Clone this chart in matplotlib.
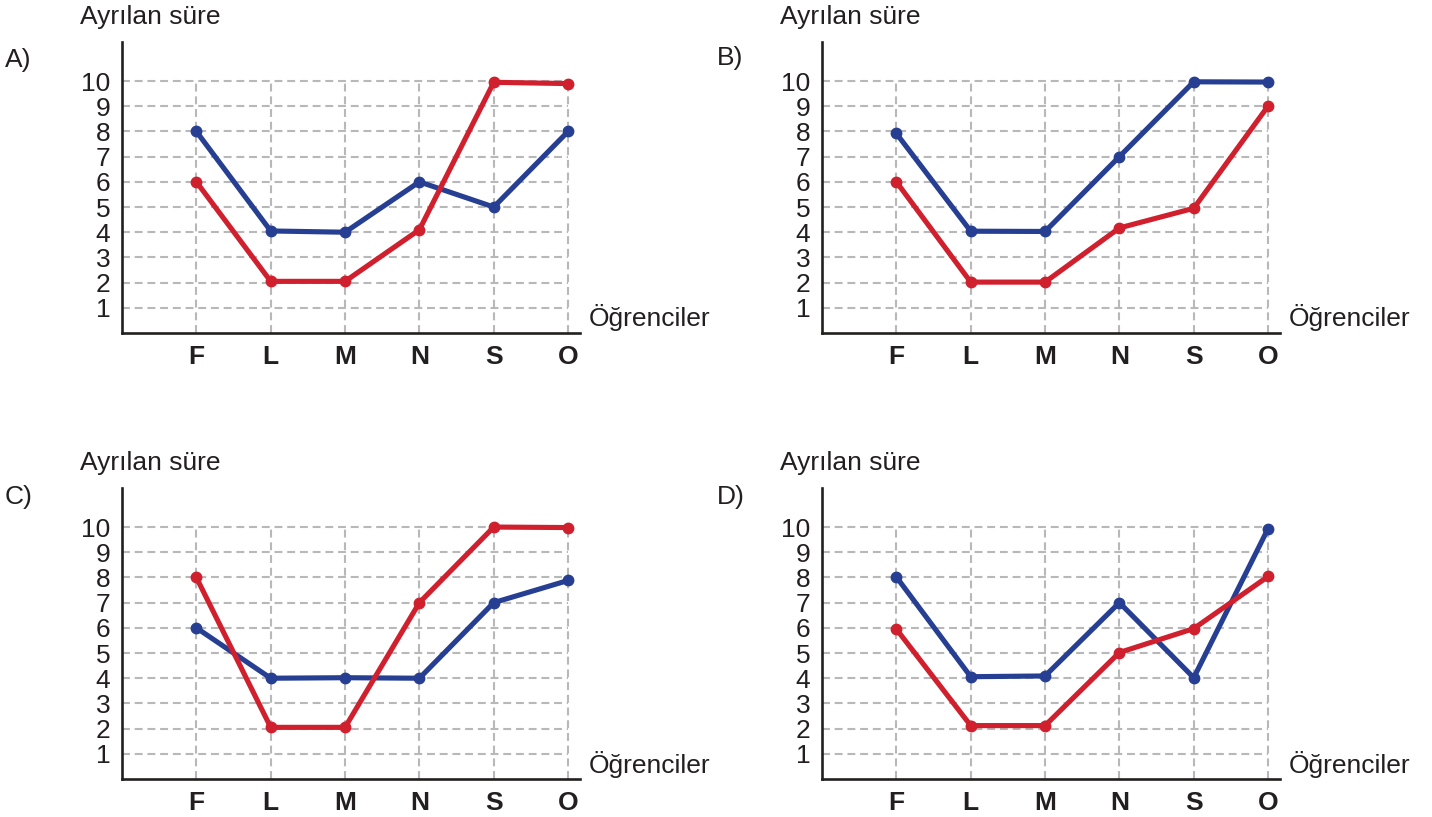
import matplotlib
matplotlib.use('Agg')
from matplotlib import pyplot as plt

plt.rcParams['font.family'] = ['Liberation Sans', 'DejaVu Sans']

students = ['F', 'L', 'M', 'N', 'S', 'O']
yticks = [1, 2, 3, 4, 5, 6, 7, 8, 9, 10]
panels = ['A)', 'B)', 'C)', 'D)']

blue_a = [8, 4.05, 4.0, 6, 5, 8]
red_a = [6, 2.05, 2.05, 4.1, 9.95, 9.9]
blue_b = [7.92, 4.04, 4.03, 7, 9.97, 9.96]
red_b = [6, 2.02, 2.02, 4.17, 4.95, 9.01]
blue_c = [6, 4.0, 4.02, 4.0, 7, 7.88]
red_c = [8, 2.05, 2.05, 7, 10, 9.98]
blue_d = [8.02, 4.06, 4.09, 7, 4.02, 9.94]
red_d = [5.95, 2.12, 2.12, 5.02, 5.97, 8.04]

blues = [blue_a, blue_b, blue_c, blue_d]
reds = [red_a, red_b, red_c, red_d]

W, H = 1432, 817
BLUE = '#263f93'
RED = '#d0202e'
GRID = '#b8b8b8'
INK = '#231f20'
FS = 19

fig = plt.figure(figsize=(W / 100, H / 100), dpi=100)

def fx(px):
    return px / W

def fy(py):
    return 1 - py / H

offsets = [(0, 0), (700, 0), (0, 446), (700, 446)]
label_pos = [(5, 60), (717, 58), (5, 497), (717, 497)]

for i, (dx, dy) in enumerate(offsets):
    left, right = 122 + dx, 580 + dx
    top, bottom = 42 + dy, 333 + dy
    ax = fig.add_axes([fx(left), fy(bottom), (right - left) / W, (bottom - top) / H])
    ax.set_xlim(0, 6.16)
    ax.set_ylim(0, 11.55)
    x = list(range(1, len(students) + 1))

    ax.hlines(yticks, 0, 6, colors=GRID, linewidth=1.5, linestyles=(0, (3.8, 2.3)), zorder=1)
    ax.vlines(x, 0, 10.1, colors=GRID, linewidth=1.5, linestyles=(0, (3.8, 2.3)), zorder=1)

    ax.plot(x, blues[i], color=BLUE, lw=3.7, marker='o', ms=7.5, zorder=3, solid_capstyle='round')
    ax.plot(x, reds[i], color=RED, lw=3.7, marker='o', ms=7.5, zorder=3, solid_capstyle='round')

    for s in ['top', 'right']:
        ax.spines[s].set_visible(False)
    for s in ['left', 'bottom']:
        ax.spines[s].set_linewidth(1.9)
        ax.spines[s].set_color(INK)

    ax.set_yticks(yticks)
    ax.set_yticklabels([str(v) for v in yticks], fontsize=FS, color=INK)
    ax.set_xticks(x)
    ax.set_xticklabels(students, fontsize=FS, fontweight='bold', color=INK)
    ax.tick_params(axis='y', length=0, pad=8.5)
    ax.tick_params(axis='x', length=0, pad=9)

    fig.text(fx(80 + dx), fy(17 + dy), 'Ayrılan süre', fontsize=FS, va='center', ha='left', color=INK)
    lx, ly = label_pos[i]
    fig.text(fx(lx), fy(ly), panels[i], fontsize=FS, va='center', ha='left', color=INK)
    fig.text(fx(589 + dx), fy(318 + dy), 'Öğrenciler', fontsize=FS, va='center', ha='left', color=INK)

fig.savefig('out.png', dpi=100)
